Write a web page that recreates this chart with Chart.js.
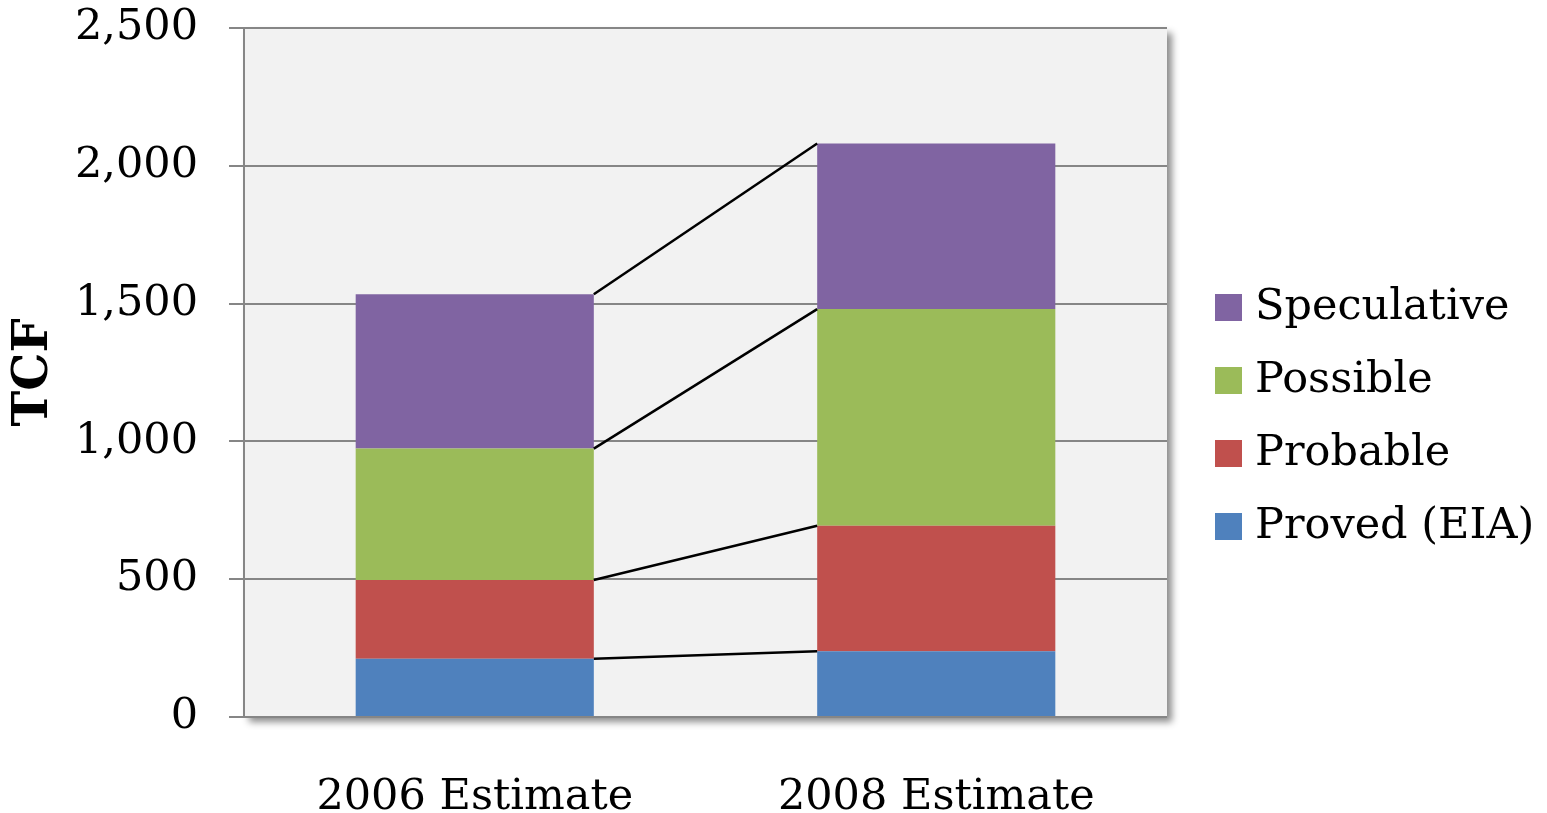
<!DOCTYPE html>
<html>
<head>
<meta charset="utf-8">
<script src="https://cdn.jsdelivr.net/npm/chart.js@4.4.1/dist/chart.umd.min.js"></script>
<style>
  html, body { margin: 0; padding: 0; background: #fff; }
  #wrap { width: 1547px; height: 813px; }
</style>
</head>
<body>
<div id="wrap"><canvas id="gasChart"></canvas></div>
<script>
// dados (TCF)
const categories = ['2006 Estimate', '2008 Estimate'];
const provedData = [211, 239];
const probableData = [286, 455];
const possibleData = [477, 786];
const speculativeData = [560, 601];
const yTicks = [0, 500, 1000, 1500, 2000, 2500];

const FONT = '"DejaVu Serif", "Liberation Serif", serif';

// fundo cinza com sombra da área do gráfico
const plotBackground = {
    id: 'plotBackground',
    beforeDraw(chart) {
        const { ctx, chartArea: a } = chart;
        ctx.save();
        ctx.shadowColor = 'rgba(0,0,0,0.45)';
        ctx.shadowBlur = 7;
        ctx.shadowOffsetX = 5;
        ctx.shadowOffsetY = 5;
        ctx.fillStyle = '#f2f2f2';
        ctx.fillRect(a.left, a.top, a.right - a.left, a.bottom - a.top);
        ctx.restore();
    }
};

// linhas ligando o topo de cada série entre as duas barras
const seriesLines = {
    id: 'seriesLines',
    afterDatasetsDraw(chart) {
        const { ctx } = chart;
        ctx.save();
        ctx.strokeStyle = '#000';
        ctx.lineWidth = 2.5;
        chart.data.datasets.forEach((ds, i) => {
            const bars = chart.getDatasetMeta(i).data;
            const a = bars[0], b = bars[1];
            ctx.beginPath();
            ctx.moveTo(a.x + a.width / 2, a.y);
            ctx.lineTo(b.x - b.width / 2, b.y);
            ctx.stroke();
        });
        ctx.restore();
    }
};

// legenda desenhada à direita (ordem invertida)
const sideLegend = {
    id: 'sideLegend',
    afterDraw(chart) {
        const { ctx } = chart;
        const items = chart.data.datasets.slice().reverse();
        ctx.save();
        ctx.font = '43px ' + FONT;
        ctx.textBaseline = 'middle';
        items.forEach((ds, i) => {
            const cy = 308 + i * 73;
            ctx.fillStyle = ds.backgroundColor;
            ctx.fillRect(1215, cy - 14, 27, 27);
            ctx.fillStyle = '#000';
            ctx.fillText(ds.label, 1255, cy);
        });
        ctx.restore();
    }
};

const ctx = document.getElementById('gasChart');
new Chart(ctx, {
    type: 'bar',
    data: {
        labels: categories,
        datasets: [
            { label: 'Proved (EIA)', data: provedData, backgroundColor: '#4f81bd' },
            { label: 'Probable', data: probableData, backgroundColor: '#c0504d' },
            { label: 'Possible', data: possibleData, backgroundColor: '#9bbb59' },
            { label: 'Speculative', data: speculativeData, backgroundColor: '#8064a2' }
        ]
    },
    options: {
        responsive: true,
        maintainAspectRatio: false,
        animation: false,
        devicePixelRatio: 1,
        layout: { padding: { top: 28, right: 380, left: 0, bottom: 0 } },
        datasets: {
            bar: { categoryPercentage: 1, barPercentage: 0.516, borderWidth: 0 }
        },
        plugins: {
            legend: { display: false },
            tooltip: { enabled: false }
        },
        scales: {
            x: {
                stacked: true,
                grid: { display: false, drawTicks: false },
                border: { display: false },
                ticks: { color: '#000', font: { family: FONT, size: 43 }, padding: 55 },
                afterFit(scale) { scale.height = 96; }
            },
            y: {
                stacked: true,
                min: 0,
                max: 2500,
                afterBuildTicks(scale) { scale.ticks = yTicks.map(v => ({ value: v })); },
                ticks: {
                    color: '#000',
                    font: { family: FONT, size: 43 },
                    padding: 31,
                    callback: v => v.toLocaleString('en-US')
                },
                grid: { color: '#868686', lineWidth: 2, tickLength: 15 },
                border: { color: '#868686', width: 2 },
                title: {
                    display: true,
                    text: 'TCF',
                    color: '#000',
                    font: { family: FONT, size: 48, weight: 'bold' },
                    padding: { top: 6, bottom: 0 }
                },
                afterFit(scale) {
                    scale.width = 244;
                    scale.paddingTop = 0;
                    scale.paddingBottom = 0;
                }
            }
        }
    },
    plugins: [plotBackground, seriesLines, sideLegend]
});
</script>
</body>
</html>
